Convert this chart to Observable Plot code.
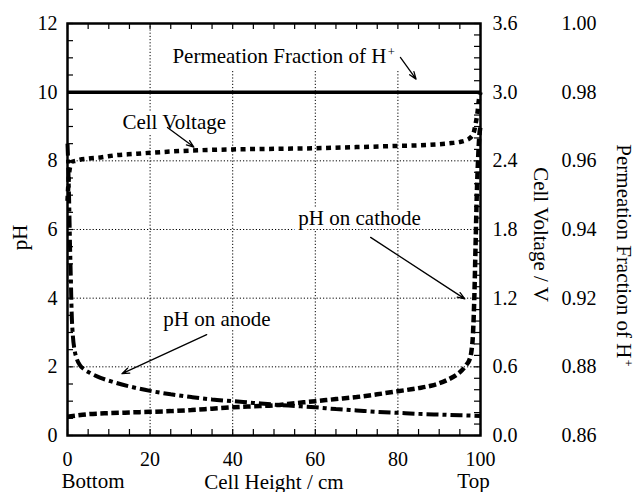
<!DOCTYPE html>
<html><head><meta charset="utf-8">
<script src="https://cdn.jsdelivr.net/npm/d3@7"></script>
<script src="https://cdn.jsdelivr.net/npm/@observablehq/plot@0.6"></script>
<style>body{margin:0;background:#fff} svg{display:block}</style>
</head><body><div id="chart"></div>
<script>
// ---- data ----
const permeationHeight = [0, 100];
const permeationFraction = [0.98, 0.98];

const voltageHeight = [0, 0.3, 0.7, 1, 2, 3, 5, 8, 12, 16, 20, 30, 40, 50, 60, 70, 80, 85, 90, 93, 95, 96.5, 97.5, 98.3, 98.8, 99.3, 99.6, 100];
const cellVoltage   = [2.05, 2.25, 2.36, 2.39, 2.40, 2.41, 2.42, 2.43, 2.45, 2.46, 2.47, 2.49, 2.50, 2.505, 2.51, 2.52, 2.53, 2.535, 2.545, 2.555, 2.565, 2.58, 2.60, 2.64, 2.72, 2.83, 2.93, 3.0];

const cathodeHeight = [0, 2, 5, 10, 15, 20, 25, 30, 35, 40, 45, 50, 55, 60, 65, 70, 75, 80, 85, 88, 90, 92, 94, 95.5, 96.5, 97.3, 97.8, 98.2, 98.5, 98.8, 99.1, 99.4, 99.7, 100];
const cathodePH     = [0.55, 0.58, 0.62, 0.65, 0.67, 0.69, 0.71, 0.74, 0.78, 0.82, 0.85, 0.88, 0.94, 1.0, 1.06, 1.12, 1.2, 1.29, 1.38, 1.45, 1.52, 1.62, 1.75, 1.9, 2.05, 2.2, 2.45, 3.0, 4.0, 5.5, 7.0, 8.0, 8.7, 9.0];

const anodeHeight = [0, 0.2, 0.4, 0.6, 0.8, 1.0, 1.3, 1.7, 2.2, 3, 4, 5.5, 8, 11, 15, 20, 25, 30, 35, 40, 45, 50, 55, 60, 65, 70, 75, 80, 85, 90, 95, 100];
const anodePH     = [8.5, 7.8, 6.8, 5.6, 4.6, 3.6, 2.9, 2.5, 2.25, 2.05, 1.93, 1.82, 1.68, 1.56, 1.43, 1.3, 1.2, 1.12, 1.05, 1.0, 0.95, 0.9, 0.86, 0.82, 0.77, 0.73, 0.69, 0.66, 0.63, 0.61, 0.59, 0.57];

const xTicks = [0, 20, 40, 60, 80, 100];
const pHTicks = [0, 2, 4, 6, 8, 10, 12];
const voltageTickLabels = ["0.0", "0.6", "1.2", "1.8", "2.4", "3.0", "3.6"];
const permeationTickLabels = ["0.86", "0.88", "0.92", "0.94", "0.96", "0.98", "1.00"];

// ---- helpers: map secondary axes onto the pH scale ----
const vToPH = v => v / 0.3;
const pfToPH = p => 6 + (p - 0.94) / 0.02 * 2;   // as labelled: 0.94..1.00 over pH 6..12

const series = (xs, ys, f = d => d) => xs.map((x, i) => ({x, y: f(ys[i])}));
const perm = series(permeationHeight, permeationFraction, pfToPH);
const volt = series(voltageHeight, cellVoltage, vToPH);
const cath = series(cathodeHeight, cathodePH);
const anod = series(anodeHeight, anodePH);

const W = 636, H = 492, mL = 67, mR = 156, mT = 23, mB = 57;
const fw = W - mL - mR, fh = H - mT - mB, tl = 6;
const minorX = d3.range(0, 101, 5);
const minorPH = d3.range(0, 25).map(i => i / 2);
const minorV = d3.range(0, 37).map(i => i / 3);
const font = "Liberation Serif, Times New Roman, serif";
const lineBase = {x: "x", y: "y", stroke: "black", strokeLinecap: "butt", strokeLinejoin: "miter", curve: "monotone-x"};

const chart = Plot.plot({
  width: W, height: H,
  marginLeft: mL, marginRight: mR, marginTop: mT, marginBottom: mB,
  x: {domain: [0, 100]},
  y: {domain: [0, 12]},
  style: {fontFamily: font, fontSize: "20px", background: "white", color: "black"},
  marks: [
    Plot.gridX(xTicks.slice(1, -1), {stroke: "black", strokeOpacity: 1, strokeWidth: 1, strokeDasharray: "1.2,2"}),
    Plot.gridY(pHTicks.slice(1, -1), {stroke: "black", strokeOpacity: 1, strokeWidth: 1, strokeDasharray: "1.2,2"}),
    // white boxes behind annotations
    Plot.rect([0], {x1: 23, x2: 82.5, y1: 10.62, y2: 12, fill: "white"}),
    Plot.text(["Permeation Fraction of H^+"], {x: 25.4, y: 10.84, textAnchor: "start", lineAnchor: "bottom", fontSize: 21}),
    Plot.text(["Cell Voltage"], {x: 13.3, y: 8.94, textAnchor: "start", lineAnchor: "bottom", fontSize: 21, stroke: "white", strokeWidth: 8, fill: "black", paintOrder: "stroke"}),
    Plot.text(["pH on cathode"], {x: 55.9, y: 6.12, textAnchor: "start", lineAnchor: "bottom", fontSize: 21, stroke: "white", strokeWidth: 8, fill: "black", paintOrder: "stroke"}),
    Plot.text(["pH on anode"], {x: 23.2, y: 3.2, textAnchor: "start", lineAnchor: "bottom", fontSize: 21, stroke: "white", strokeWidth: 6, fill: "black", paintOrder: "stroke"}),
    // arrows
    Plot.arrow([0], {x1: 80.6, y1: 11.01, x2: 84.4, y2: 10.38, stroke: "black", strokeWidth: 1.3, headLength: 9, headAngle: 40}),
    Plot.arrow([0], {x1: 24.2, y1: 8.97, x2: 30.6, y2: 8.40, stroke: "black", strokeWidth: 1.3, headLength: 9, headAngle: 40}),
    Plot.arrow([0], {x1: 73.4, y1: 5.77, x2: 96.2, y2: 3.98, stroke: "black", strokeWidth: 1.3, headLength: 9, headAngle: 40}),
    Plot.arrow([0], {x1: 33.7, y1: 2.94, x2: 13.2, y2: 1.80, stroke: "black", strokeWidth: 1.3, headLength: 9, headAngle: 40}),
    // data
    Plot.line(perm, {...lineBase, strokeWidth: 3.5, curve: "linear"}),
    Plot.line(volt, {...lineBase, strokeWidth: 4.5, strokeDasharray: "5,4.5"}),
    Plot.line(cath, {...lineBase, strokeWidth: 4.5, strokeDasharray: "7.5,3.5"}),
    Plot.line(anod, {...lineBase, strokeWidth: 4, strokeDasharray: "12,4,4,4"}),
    // inward ticks
    Plot.ruleX(minorX, {x: d => d, insetTop: fh - tl, stroke: "black", strokeWidth: 1.2}),
    Plot.ruleX(minorX, {x: d => d, insetBottom: fh - tl, stroke: "black", strokeWidth: 1.2}),
    Plot.ruleY(minorPH, {y: d => d, insetRight: fw - tl, stroke: "black", strokeWidth: 1.2}),
    Plot.ruleY(minorV, {y: d => d, insetLeft: fw - tl, stroke: "black", strokeWidth: 1.2}),
    Plot.frame({stroke: "black", strokeWidth: 2.5}),
    // axes labels
    Plot.axisX({ticks: xTicks, tickSize: 0, tickPadding: 16, fontSize: 20, label: null}),
    Plot.axisY({ticks: pHTicks, tickSize: 0, tickPadding: 10, fontSize: 20, label: null}),
    Plot.axisY({anchor: "right", ticks: pHTicks, tickFormat: d => voltageTickLabels[pHTicks.indexOf(d)], tickSize: 0, tickPadding: 12, fontSize: 20, label: null}),
    Plot.axisY({anchor: "right", ticks: pHTicks, tickFormat: d => permeationTickLabels[pHTicks.indexOf(d)], tickSize: 0, tickPadding: 81, fontSize: 20, label: null}),
    // titles
    Plot.text(["pH"], {frameAnchor: "left", dx: -47, dy: 8, rotate: -90, textAnchor: "middle", fontSize: 21}),
    Plot.text(["Cell Voltage / V"], {frameAnchor: "right", dx: 60, dy: 5, rotate: 90, textAnchor: "middle", fontSize: 21}),
    Plot.text(["Permeation Fraction of H^+"], {frameAnchor: "right", dx: 143, dy: 26, rotate: 90, textAnchor: "middle", fontSize: 21}),
    Plot.text(["Cell Height / cm"], {frameAnchor: "bottom", dy: 53, lineAnchor: "bottom", textAnchor: "middle", fontSize: 21}),
    Plot.text(["Bottom"], {frameAnchor: "bottom-left", dx: -6, dy: 52, textAnchor: "start", lineAnchor: "bottom", fontSize: 21}),
    Plot.text(["Top"], {frameAnchor: "bottom-right", dx: -7, dy: 52, textAnchor: "middle", lineAnchor: "bottom", fontSize: 21})
  ]
});

// superscript "+"
chart.querySelectorAll("text").forEach(t => {
  const s = t.textContent;
  if (s.includes("^+") && t.children.length === 0) {
    t.textContent = s.replace("^+", "");
    const sup = document.createElementNS("http://www.w3.org/2000/svg", "tspan");
    sup.setAttribute("dy", "-0.55em");
    sup.setAttribute("dx", "0.1em");
    sup.setAttribute("font-size", "0.6em");
    sup.textContent = "+";
    t.appendChild(sup);
  }
});
document.getElementById("chart").appendChild(chart);
</script>
</body></html>
